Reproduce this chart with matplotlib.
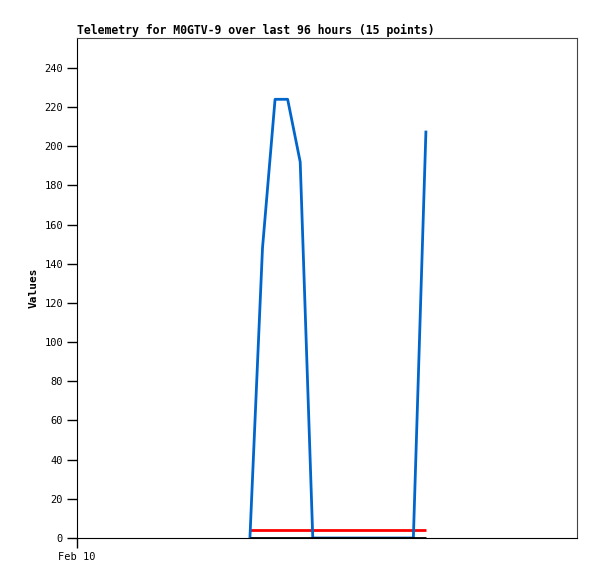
import matplotlib
matplotlib.use("Agg")
import matplotlib.pyplot as plt

# hours since Feb 10 00:00
hours = [33.2 + 2.414 * i for i in range(15)]
series_blue = [0, 148, 224, 224, 192, 0, 0, 0, 0, 0, 0, 0, 0, 0, 208]
series_red = [4] * 15
series_black = [0] * 15
yticks = list(range(0, 241, 20))
xtick_pos = [0]
xtick_labels = ["Feb 10"]
title = "Telemetry for M0GTV-9 over last 96 hours (15 points)"

fig = plt.figure(figsize=(5.97, 5.79), dpi=100)
ax = fig.add_axes([77/597, 41/579, 500/597, 500/579])
ax.plot(hours, series_blue, color="#0066cc", lw=2, solid_capstyle="butt", zorder=2)
ax.plot(hours, series_red, color="#ff0000", lw=2, solid_capstyle="butt", zorder=1.9)
ax.plot(hours, series_black, color="black", lw=2, solid_capstyle="butt", zorder=3)
ax.set_xlim(0, 96)
ax.set_ylim(0, 255.3)
ax.set_yticks(yticks)
ax.set_yticklabels([str(v) for v in yticks], fontfamily="DejaVu Sans Mono", fontsize=7.5)
ax.set_xticks(xtick_pos)
ax.set_xticklabels(xtick_labels, fontfamily="DejaVu Sans Mono", fontsize=7.5)
ax.tick_params(length=7, width=1, direction="out", pad=3)
for s in ["top", "right"]:
    ax.spines[s].set_color("#444444")
for s in ["left", "bottom"]:
    ax.spines[s].set_color("black")
ax.set_ylabel("Values", fontfamily="DejaVu Sans Mono", fontweight="bold", fontsize=8, labelpad=4)
ax.set_title(title, fontfamily="DejaVu Sans Mono", fontweight="bold", fontsize=8.3, loc="left", pad=3)
fig.savefig("out.png", dpi=100)
